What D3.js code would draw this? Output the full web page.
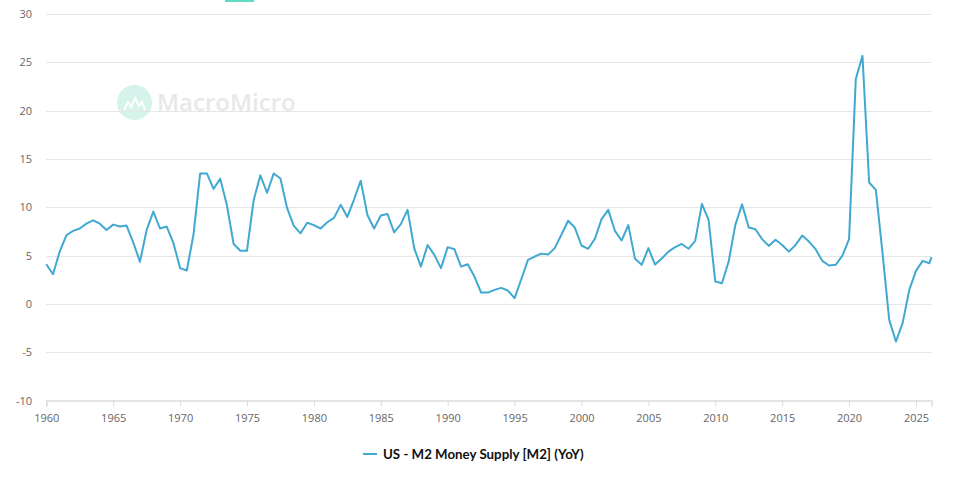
<!DOCTYPE html>
<meta charset="utf-8">

<!-- Load d3.js -->
<script src="https://d3js.org/d3.v7.min.js"></script>

<style>
  body { margin: 0; background: #fff; }
  text { font-family: "Open Sans", "Noto Sans", sans-serif; }
</style>

<body>
<svg id="chart" width="953" height="477"></svg>

<script>
    // US M2 money supply, YoY %, one value per half year (Jan, Jul)
    const startYear = 1960;
    const firstHalf = [
        4.1, 5.4, 7.55, 8.3, 8.3, 8.2, 8.1, 4.35, 9.55, 8.0,      // 1960s
        3.7, 7.15, 13.5, 12.95, 6.2, 5.5, 13.3, 13.5, 9.9, 7.3,   // 1970s
        8.15, 8.45, 10.25, 10.8, 9.2, 9.15, 7.4, 9.73, 3.86, 5.07, // 1980s
        5.87, 3.86, 2.83, 1.17, 1.66, 0.59, 4.55, 5.2, 5.77, 8.6, // 1990s
        6.04, 6.73, 9.73, 6.56, 4.66, 5.77, 4.69, 5.87, 5.7, 10.35, // 2000s
        2.31, 4.38, 10.3, 7.73, 6.0, 6.1, 6.1, 6.45, 4.45, 4.04,  // 2010s
        6.7, 25.67, 11.8, -1.66, -2.0, 3.42, 4.21                  // 2020s
    ];
    const secondHalf = [
        3.07, 7.1, 7.8, 8.65, 7.65, 8.0, 6.35, 7.65, 7.8, 6.3,
        3.45, 13.5, 11.9, 10.2, 5.5, 10.75, 11.5, 12.97, 8.07, 8.4,
        7.8, 8.9, 9.0, 12.75, 7.8, 9.3, 8.25, 5.75, 6.1, 3.7,
        5.66, 4.1, 1.17, 1.45, 1.38, 2.55, 4.9, 5.1, 7.15, 7.9,
        5.7, 8.77, 7.56, 8.15, 4.04, 4.07, 5.41, 6.2, 6.52, 8.7,
        2.14, 8.18, 7.9, 6.7, 6.63, 5.41, 7.07, 5.66, 3.97, 5.0,
        23.26, 12.56, 5.25, -3.9, 1.45, 4.45
    ];
    // most recent reading
    const latestYear = 2026.16;
    const latestValue = 4.83;

    const yTicks = [-10, -5, 0, 5, 10, 15, 20, 25, 30];
    const xTicks = [1960, 1965, 1970, 1975, 1980, 1985, 1990, 1995, 2000, 2005, 2010, 2015, 2020, 2025];
    const seriesName = "US - M2 Money Supply [M2] (YoY)";

    // build the point list
    const data = [];
    firstHalf.forEach(function(v, i) {
        data.push({ year: startYear + i, value: v });
        if (i < secondHalf.length) data.push({ year: startYear + i + 0.5, value: secondHalf[i] });
    });
    data.push({ year: latestYear, value: latestValue });

    const svg = d3.select("#chart");
    const plotLeft = 46.3, plotRight = 931.5, plotTop = 14, plotBottom = 400.5;

    const x = d3.scaleLinear()
        .domain([startYear, latestYear])
        .range([plotLeft, plotRight]);
    const y = d3.scaleLinear()
        .domain([-10, 30])
        .range([plotBottom, plotTop]);

    // watermark
    const wm = svg.append("g");
    wm.append("circle")
        .attr("cx", 134.5).attr("cy", 102.5).attr("r", 17.5)
        .attr("fill", "#d6f3eb");
    wm.append("path")
        .attr("d", "M124,110 l4,-8 l3,5 l4,-9 l4,8 l3,-4 l3,8")
        .attr("fill", "none").attr("stroke", "#fff").attr("stroke-width", 2);
    wm.append("text")
        .attr("x", 157).attr("y", 111)
        .attr("font-size", 24).attr("font-weight", 600)
        .attr("fill", "#e8e8e8")
        .text("MacroMicro");

    // top teal tab
    svg.append("rect")
        .attr("x", 225).attr("y", 0).attr("width", 29).attr("height", 2)
        .attr("fill", "#5fdcbf");

    // horizontal grid
    svg.append("g")
        .selectAll("line")
        .data(yTicks.slice(1))
        .join("line")
            .attr("x1", plotLeft).attr("x2", plotRight)
            .attr("y1", d => Math.round(y(d)) + 0.5)
            .attr("y2", d => Math.round(y(d)) + 0.5)
            .attr("stroke", "#e6e6e6")
            .attr("stroke-width", 1);

    // y axis labels
    svg.append("g")
        .selectAll("text")
        .data(yTicks)
        .join("text")
            .attr("x", 32)
            .attr("y", d => y(d) + 4)
            .attr("text-anchor", "end")
            .attr("font-size", 11)
            .attr("fill", "#666")
            .text(d => d);

    // x axis
    const xAxis = svg.append("g")
        .attr("transform", "translate(0," + plotBottom + ")")
        .call(d3.axisBottom(x).tickValues(xTicks).tickFormat(d3.format("d")).tickSize(6).tickPadding(8));
    xAxis.select(".domain").attr("stroke", "#ddd").attr("stroke-width", 1.5);
    xAxis.selectAll(".tick line").attr("stroke", "#ddd");
    xAxis.selectAll(".tick text")
        .attr("font-size", 11)
        .attr("fill", "#666")
        .style("font-family", "\"Open Sans\", \"Noto Sans\", sans-serif");

    // the series
    const line = d3.line()
        .x(d => x(d.year))
        .y(d => y(d.value));
    svg.append("path")
        .datum(data)
        .attr("d", line)
        .attr("fill", "none")
        .attr("stroke", "#41a8d1")
        .attr("stroke-width", 2)
        .attr("stroke-linejoin", "round");

    // legend
    const legend = svg.append("g");
    legend.append("line")
        .attr("x1", 363).attr("x2", 377)
        .attr("y1", 454).attr("y2", 454)
        .attr("stroke", "#41a8d1")
        .attr("stroke-width", 2);
    const lt = legend.append("text")
        .attr("x", 383).attr("y", 458.5)
        .attr("font-size", 13)
        .attr("font-weight", "bold")
        .attr("fill", "#111")
        .style("font-family", "Lato, \"Open Sans\", sans-serif")
        .text(seriesName);
    const w = lt.node().getComputedTextLength();
    if (w > 0) lt.attr("font-size", 13 * 201 / w);
</script>
</body>
